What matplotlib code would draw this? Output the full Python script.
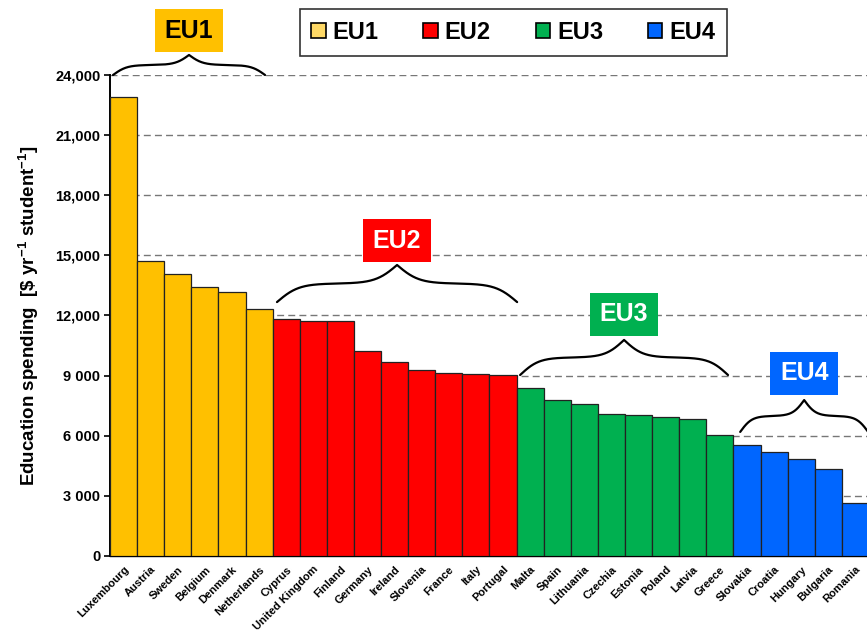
import numpy as np
import matplotlib.pyplot as plt
from matplotlib.patches import Patch

plt.rcParams['font.family'] = ['Liberation Sans', 'DejaVu Sans']
plt.rcParams['font.weight'] = 'bold'
plt.rcParams['mathtext.fontset'] = 'custom'
plt.rcParams['mathtext.bf'] = 'Liberation Sans:bold'
plt.rcParams['mathtext.rm'] = 'Liberation Sans:bold'
plt.rcParams['mathtext.default'] = 'bf'

countries = ['Luxembourg', 'Austria', 'Sweden', 'Belgium', 'Denmark', 'Netherlands',
             'Cyprus', 'United Kingdom', 'Finland', 'Germany', 'Ireland', 'Slovenia',
             'France', 'Italy', 'Portugal',
             'Malta', 'Spain', 'Lithuania', 'Czechia', 'Estonia', 'Poland', 'Latvia', 'Greece',
             'Slovakia', 'Croatia', 'Hungary', 'Bulgaria', 'Romania']
spending = [22900, 14720, 14070, 13420, 13170, 12330,
            11830, 11730, 11730, 10230, 9680, 9280, 9130, 9080, 9030,
            8380, 7780, 7580, 7090, 7040, 6940, 6840, 6040,
            5540, 5190, 4840, 4340, 2640]
groups = ['EU1'] * 6 + ['EU2'] * 9 + ['EU3'] * 8 + ['EU4'] * 5
group_names = ['EU1', 'EU2', 'EU3', 'EU4']
colors = {'EU1': '#FFC000', 'EU2': '#FF0000', 'EU3': '#00B050', 'EU4': '#0066FF'}
legend_colors = {'EU1': '#FFD966', 'EU2': '#FF0000', 'EU3': '#00B050', 'EU4': '#0066FF'}

yticks = [0, 3000, 6000, 9000, 12000, 15000, 18000, 21000, 24000]
ytick_labels = ['0', '3 000', '6 000', '9 000', '12,000', '15,000', '18,000', '21,000', '24,000']

# brace: (group, x start, x end, y at ends, y at tip, label y)
braces = [('EU1', -0.39, 5.22, 24000, 25000, 26200),
          ('EU2', 5.66, 14.52, 12670, 14520, 15720),
          ('EU3', 14.63, 22.3, 9030, 10780, 12070),
          ('EU4', 22.75, 27.47, 6190, 7780, 9130)]

fig = plt.figure(figsize=(8.67, 6.32), dpi=100)
ax = fig.add_axes([0.1269, 0.1203, 0.9066, 0.761])

x = np.arange(len(countries))
ax.bar(x, spending, width=1.0, color=[colors[g] for g in groups],
       edgecolor='#222222', linewidth=0.9, zorder=3)

ax.set_xlim(-0.5, 28.5)
ax.set_ylim(0, 24000)
ax.set_yticks(yticks)
ax.set_yticklabels(ytick_labels, fontsize=10.5, fontweight='bold')
ax.yaxis.grid(True, linestyle=(0, (5, 3)), color='#777777', linewidth=1, zorder=0)
ax.set_xticks(x)
ax.set_xticklabels(countries, rotation=45, ha='right', rotation_mode='anchor',
                   fontsize=8, fontweight='bold')
ax.tick_params(axis='x', length=0, pad=6)
ax.tick_params(axis='y', length=4, width=1.2, direction='out', pad=3)
for s in ['top', 'right']:
    ax.spines[s].set_visible(False)
ax.spines['left'].set_linewidth(1.4)
ax.spines['bottom'].set_linewidth(1.0)
ax.set_ylabel(r'Education spending  [\$ yr$^{-1}$ student$^{-1}$]',
              fontsize=13.5, fontweight='bold', labelpad=10)


def brace(ax, x0, x1, y0, y1, b=11):
    t = np.linspace(0, 1, 200)
    half = 1 / (1 + np.exp(-b * t)) + 1 / (1 + np.exp(-b * (t - 1)))
    half = (half - half[0]) / (half[-1] - half[0])
    yy = np.concatenate([half, half[::-1]])
    xm = (x0 + x1) / 2
    xx = np.concatenate([x0 + t * (xm - x0), xm + t * (x1 - xm)])
    ax.plot(xx, y0 + yy * (y1 - y0), color='black', lw=1.6, clip_on=False, zorder=5,
            solid_capstyle='round')
    return xm


for g, x0, x1, y0, y1, ly in braces:
    xm = brace(ax, x0, x1, y0, y1)
    ax.text(xm, ly, g, ha='center', va='center', fontsize=18, fontweight='bold',
            color='black' if g == 'EU1' else 'white', zorder=6, clip_on=False,
            bbox=dict(boxstyle='square,pad=0.38', fc=colors[g], ec='none'))

handles = [Patch(facecolor=legend_colors[g], edgecolor='black', linewidth=1.2, label=g)
           for g in group_names]
leg = fig.legend(handles=handles, loc='center', bbox_to_anchor=(0.592, 0.949), ncol=4,
                 prop={'size': 17, 'weight': 'bold'}, handlelength=0.6, handleheight=0.6,
                 handletextpad=0.3, columnspacing=1.9, fancybox=False,
                 edgecolor='black', borderpad=0.5, borderaxespad=0)
leg.get_frame().set_linewidth(1.2)

fig.savefig('out.png', dpi=100)
